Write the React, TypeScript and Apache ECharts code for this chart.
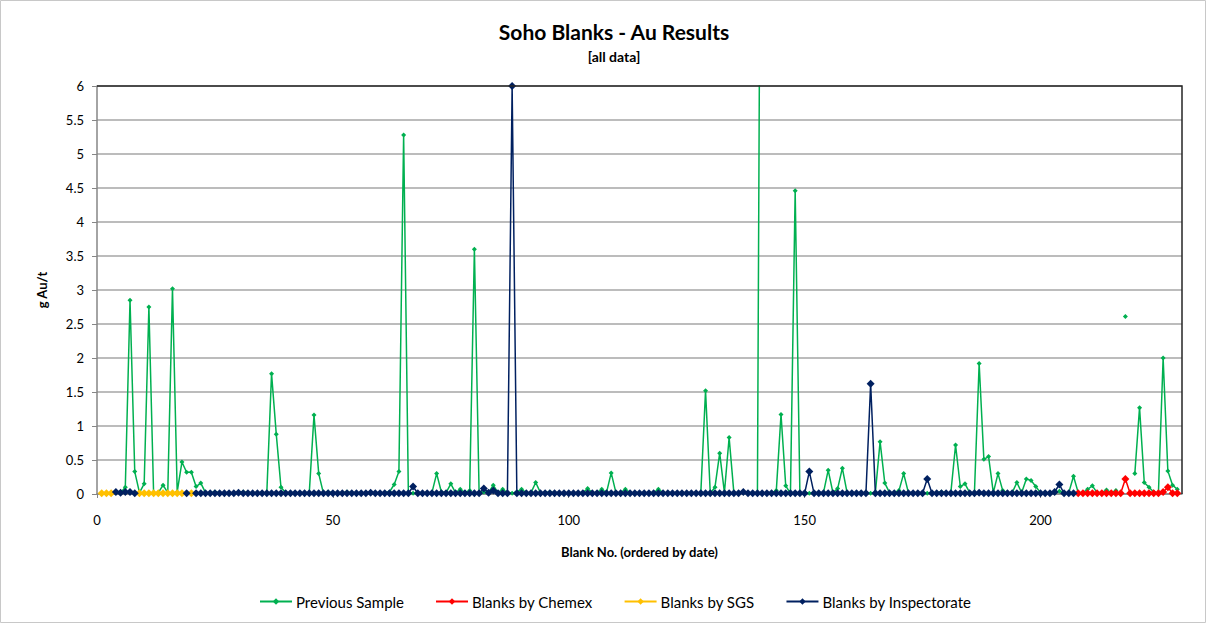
import React, { useEffect, useRef } from "react";
import * as echarts from "echarts";

// Au grade (g/t) of the sample preceding each blank, in blank order (blank no. 1..229)
const previousSample: (number | null)[] = [
  0.01, 0.01, 0.01, 0.02, 0.02, 0.1, 2.85, 0.33, 0.02, 0.15,
  2.75, 0.01, 0.02, 0.13, 0.02, 3.02, 0.03, 0.47, 0.32, 0.32,
  0.11, 0.16, 0.02, 0.02, 0.03, 0.02, 0.02, 0.02, 0.02, 0.02,
  0.03, 0.02, 0.02, 0.02, 0.02, 0.02, 1.77, 0.88, 0.1, 0.02,
  0.02, 0.02, 0.02, 0.02, 0.02, 1.16, 0.3, 0.01, 0.03, 0.02,
  0.02, 0.02, 0.03, 0.02, 0.02, 0.02, 0.02, 0.02, 0.02, 0.02,
  0.02, 0.03, 0.14, 0.33, 5.28, 0.02, 0.01, 0.02, 0.02, 0.02,
  0.02, 0.3, 0.03, 0.02, 0.15, 0.02, 0.07, 0.02, 0.05, 3.6,
  0.02, 0.03, 0.02, 0.13, 0.02, 0.07, 0.02, 0.01, 0.03, 0.07,
  0.02, 0.02, 0.17, 0.02, 0.02, 0.03, 0.02, 0.02, 0.02, 0.02,
  0.02, 0.02, 0.02, 0.08, 0.02, 0.02, 0.07, 0.02, 0.31, 0.02,
  0.02, 0.07, 0.02, 0.02, 0.02, 0.02, 0.02, 0.02, 0.07, 0.02,
  0.02, 0.02, 0.02, 0.02, 0.02, 0.02, 0.02, 0.02, 1.52, 0.01,
  0.1, 0.6, 0.02, 0.83, 0.02, 0.02, 0.02, 0.02, 0.02, 0.02,
  15, null, 0.02, 0.05, 1.17, 0.12, 0.01, 4.46, 0.01, 0.02,
  0.01, 0.02, 0.02, 0.02, 0.35, 0.02, 0.08, 0.38, 0.02, 0.02,
  0.02, 0.02, 0.02, 0.01, 0.02, 0.77, 0.16, 0.02, 0.02, 0.05,
  0.3, 0.02, 0.02, 0.02, 0.02, 0.01, 0.02, 0.02, 0.03, 0.02,
  0.02, 0.72, 0.11, 0.15, 0.02, 0.02, 1.92, 0.51, 0.55, 0.02,
  0.3, 0.05, 0.02, 0.02, 0.17, 0.02, 0.22, 0.2, 0.11, 0.02,
  0.02, 0.02, 0.02, 0.04, 0.02, 0.02, 0.26, 0.02, 0.02, 0.07,
  0.12, 0.02, 0.02, 0.06, 0.02, 0.05, null, 2.61, null, 0.3,
  1.27, 0.17, 0.1, 0.03, 0.01, 2.0, 0.34, 0.13, 0.07,
];

// Blanks assayed by Inspectorate (blank no. 1..229, null where another lab assayed)
const inspectorate: (number | null)[] = [
  null, null, null, 0.03, 0.02, 0.03, 0.03, 0.01, null, null,
  null, null, null, null, null, null, null, null, 0.01, null,
  0.01, 0.01, 0.01, 0.01, 0.01, 0.01, 0.01, 0.01, 0.01, 0.02,
  0.01, 0.01, 0.01, 0.01, 0.01, 0.01, 0.01, 0.01, 0.01, 0.01,
  0.01, 0.01, 0.01, 0.01, 0.01, 0.01, 0.01, 0.01, 0.01, 0.01,
  0.01, 0.01, 0.01, 0.01, 0.01, 0.01, 0.01, 0.02, 0.01, 0.01,
  0.01, 0.01, 0.01, 0.01, 0.01, 0.01, 0.11, 0.01, 0.01, 0.01,
  0.01, 0.01, 0.01, 0.01, 0.01, 0.01, 0.01, 0.01, 0.01, 0.01,
  0.01, 0.08, 0.02, 0.05, 0.01, 0.01, 0.01, 6.0, 0.01, 0.01,
  0.01, 0.01, 0.01, 0.01, 0.01, 0.01, 0.01, 0.01, 0.01, 0.01,
  0.01, 0.01, 0.01, 0.01, 0.01, 0.01, 0.01, 0.01, 0.01, 0.01,
  0.01, 0.01, 0.01, 0.01, 0.01, 0.01, 0.01, 0.01, 0.01, 0.01,
  0.01, 0.01, 0.01, 0.01, 0.01, 0.01, 0.01, 0.01, 0.01, 0.01,
  0.01, 0.01, 0.01, 0.01, 0.01, 0.01, 0.03, 0.01, 0.01, 0.01,
  0.01, 0.01, 0.01, 0.01, 0.01, 0.01, 0.01, 0.01, 0.01, 0.01,
  0.33, 0.01, 0.01, 0.01, 0.01, 0.01, 0.01, 0.01, 0.01, 0.01,
  0.01, 0.01, 0.01, 1.62, 0.01, 0.01, 0.01, 0.01, 0.01, 0.01,
  0.01, 0.01, 0.01, 0.01, 0.01, 0.22, 0.01, 0.01, 0.01, 0.01,
  0.01, 0.01, 0.01, 0.01, 0.01, 0.01, 0.02, 0.01, 0.01, 0.01,
  0.01, 0.01, 0.01, 0.01, 0.01, 0.01, 0.01, 0.01, 0.01, 0.01,
  0.01, 0.01, 0.03, 0.14, 0.01, 0.01, 0.01, null, null, null,
  null, null, null, null, null, null, null, null, null, null,
  null, null, null, null, null, null, null, null, null,
];

// Blanks assayed by SGS
const sgsBlankNo = [1, 2, 3, 9, 10, 11, 12, 13, 14, 15, 16, 17, 18, 20];
const sgsAu = [0.01, 0.01, 0.01, 0.01, 0.01, 0.01, 0.01, 0.01, 0.01, 0.01, 0.01, 0.01, 0.01, 0.01];

// Blanks assayed by Chemex
const chemexBlankNo = [
  208, 209, 210, 211, 212, 213, 214, 215, 216, 217, 218,
  219, 220, 221, 222, 223, 224, 225, 226, 227, 228, 229,
];
const chemexAu = [
  0.01, 0.01, 0.01, 0.01, 0.01, 0.01, 0.01, 0.01, 0.01, 0.01, 0.22,
  0.01, 0.01, 0.01, 0.01, 0.01, 0.01, 0.01, 0.03, 0.1, 0.01, 0.01,
];

const xTicks = { min: 0, max: 230, interval: 50 };
const yTicks = { min: 0, max: 6, interval: 0.5 };

const FONT = "Lato, 'Open Sans', sans-serif";
const GREEN = "#00B050";
const RED = "#FF0000";
const GOLD = "#FFC000";
const NAVY = "#002060";

const byBlank = (vals: (number | null)[]) =>
  vals.map((v, i) => [i + 1, v == null ? "-" : v]);
const pairs = (xs: number[], ys: number[]) => xs.map((x, i) => [x, ys[i]]);

export default function App() {
  const ref = useRef<HTMLDivElement>(null);

  useEffect(() => {
    document.body.style.margin = "0";
    if (!ref.current) return;
    const chart = echarts.init(ref.current, undefined, { renderer: "svg" });

    const lineSeries = (
      name: string,
      color: string,
      data: any[],
      symbolSize: number,
      connectNulls: boolean
    ) => ({
      name,
      type: "line",
      data,
      symbol: "diamond",
      symbolSize,
      showAllSymbol: true,
      connectNulls,
      clip: true,
      lineStyle: { color, width: 1.5 },
      itemStyle: { color, borderWidth: 0 },
      emphasis: { disabled: true },
    });

    chart.setOption({
      animation: false,
      backgroundColor: "#ffffff",
      textStyle: { fontFamily: FONT },
      title: [
        {
          text: "Soho Blanks - Au Results",
          left: 609,
          top: 16,
          textAlign: "center",
          textStyle: { fontFamily: FONT, fontSize: 21, fontWeight: "bold", color: "#000" },
        },
        {
          text: "[all data]",
          left: 609,
          top: 44,
          textAlign: "center",
          textStyle: { fontFamily: FONT, fontSize: 14, fontWeight: "bold", color: "#000" },
        },
      ],
      grid: { left: 97, top: 86, right: 24, bottom: 129, containLabel: false },
      legend: {
        left: 254,
        top: 589,
        itemWidth: 32,
        itemHeight: 8,
        itemGap: 31,
        textStyle: { fontFamily: FONT, fontSize: 15, color: "#000", padding: [0, 0, 0, -1] },
        data: ["Previous Sample", "Blanks by Chemex", "Blanks by SGS", "Blanks by Inspectorate"],
      },
      xAxis: {
        type: "value",
        ...xTicks,
        name: "Blank No. (ordered by date)",
        nameLocation: "middle",
        nameGap: 51,
        nameTextStyle: { fontFamily: FONT, fontSize: 13, fontWeight: "bold", color: "#000" },
        axisLine: { show: true, lineStyle: { color: "#868686", width: 1.5 } },
        axisTick: { show: true, length: 4, lineStyle: { color: "#868686" } },
        axisLabel: { fontSize: 13, color: "#000", margin: 19, showMaxLabel: false },
        splitLine: { show: false },
      },
      yAxis: {
        type: "value",
        ...yTicks,
        name: "g Au/t",
        nameLocation: "middle",
        nameGap: 49,
        nameTextStyle: { fontFamily: FONT, fontSize: 13, fontWeight: "bold", color: "#000" },
        axisLine: { show: true, lineStyle: { color: "#868686", width: 1.5 } },
        axisTick: { show: true, length: 5, lineStyle: { color: "#868686" } },
        axisLabel: { fontSize: 13, color: "#000", margin: 13 },
        splitLine: { show: true, lineStyle: { color: "#a6a6a6", width: 1.5 } },
      },
      graphic: [
        {
          type: "rect",
          shape: { x: 0.5, y: 0.5, width: 1205, height: 622 },
          style: { fill: "none", stroke: "#c8c8c8", lineWidth: 1 },
          silent: true,
        },
        {
          type: "polyline",
          shape: { points: [[97, 86], [1182, 86], [1182, 494]] },
          style: { fill: "none", stroke: "#262626", lineWidth: 1.5 },
          z: 100,
          silent: true,
        },
      ],
      series: [
        lineSeries("Previous Sample", GREEN, byBlank(previousSample), 5, false),
        lineSeries("Blanks by Chemex", RED, pairs(chemexBlankNo, chemexAu), 8, true),
        lineSeries("Blanks by SGS", GOLD, pairs(sgsBlankNo, sgsAu), 8, true),
        lineSeries("Blanks by Inspectorate", NAVY, byBlank(inspectorate), 8, true),
      ],
    });

    return () => chart.dispose();
  }, []);

  return <div ref={ref} style={{ width: 1206, height: 623 }} />;
}
